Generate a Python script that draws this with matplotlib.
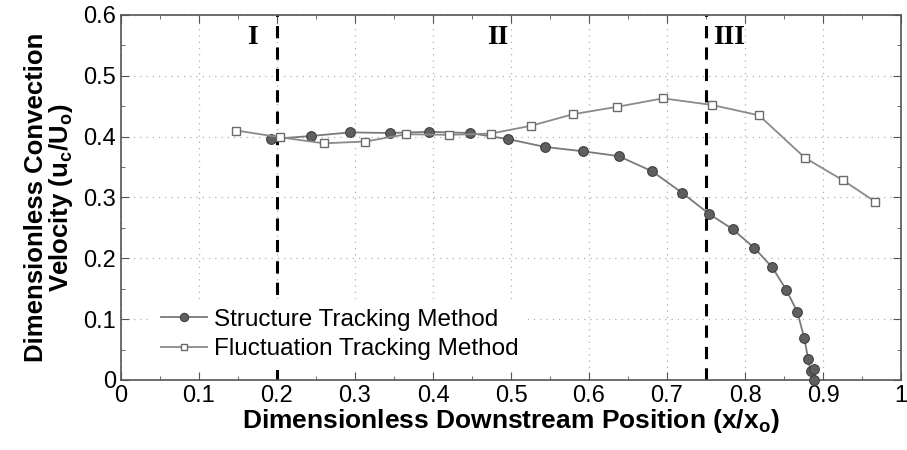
import matplotlib
matplotlib.use("Agg")
import matplotlib.pyplot as plt
from matplotlib.ticker import MultipleLocator

# Structure Tracking Method
struct_x = [0.192, 0.243, 0.294, 0.345, 0.395, 0.447, 0.496, 0.544, 0.592, 0.638,
            0.681, 0.719, 0.754, 0.784, 0.812, 0.835, 0.853, 0.867, 0.876, 0.881,
            0.884, 0.888, 0.889]
struct_y = [0.396, 0.401, 0.407, 0.406, 0.408, 0.406, 0.396, 0.383, 0.376, 0.368,
            0.343, 0.308, 0.273, 0.248, 0.217, 0.185, 0.148, 0.112, 0.069, 0.034,
            0.015, 0.018, 0.0]

# Fluctuation Tracking Method
fluct_x = [0.148, 0.204, 0.260, 0.313, 0.366, 0.421, 0.474, 0.526, 0.580, 0.636,
           0.695, 0.758, 0.818, 0.877, 0.926, 0.967]
fluct_y = [0.410, 0.399, 0.389, 0.392, 0.404, 0.403, 0.405, 0.418, 0.437, 0.449,
           0.463, 0.452, 0.435, 0.365, 0.328, 0.293]

region_bounds = [0.2, 0.75]
region_labels = ["I", "II", "III"]
region_label_x = [0.169, 0.483, 0.780]

xticks = [0, 0.1, 0.2, 0.3, 0.4, 0.5, 0.6, 0.7, 0.8, 0.9, 1]
xticklabels = ["0", "0.1", "0.2", "0.3", "0.4", "0.5", "0.6", "0.7", "0.8", "0.9", "1"]
yticks = [0, 0.1, 0.2, 0.3, 0.4, 0.5, 0.6]
yticklabels = ["0", "0.1", "0.2", "0.3", "0.4", "0.5", "0.6"]

plt.rcParams['font.family'] = ['Liberation Sans', 'DejaVu Sans']
plt.rcParams['mathtext.fontset'] = 'custom'
plt.rcParams['mathtext.rm'] = 'Liberation Sans'
plt.rcParams['mathtext.bf'] = 'Liberation Sans:bold'

fig = plt.figure(figsize=(9.07, 4.5), dpi=100)
ax = fig.add_axes([0.1334, 0.1556, 0.86, 0.8111])

ax.plot(struct_x, struct_y, color='#7a7a7a', lw=1.3, marker='o', ms=7,
        mfc='#5f5f5f', mec='#404040', mew=0.8, label='Structure Tracking Method',
        zorder=3, clip_on=False)
ax.plot(fluct_x, fluct_y, color='#8a8a8a', lw=1.3, marker='s', ms=5.5,
        mfc='white', mec='#6a6a6a', mew=1.0, label='Fluctuation Tracking Method', zorder=3)

for xb in region_bounds:
    ax.axvline(xb, color='black', lw=2.2, ls=(0, (4, 3)), zorder=2)
for lx, lab in zip(region_label_x, region_labels):
    ax.text(lx, 0.563, lab, ha='center', va='center', fontsize=20,
            fontweight='bold', family=['Liberation Serif', 'DejaVu Serif'])

ax.set_xlim(0, 1)
ax.set_ylim(0, 0.6)
ax.set_xticks(xticks)
ax.set_xticklabels(xticklabels)
ax.set_yticks(yticks)
ax.set_yticklabels(yticklabels)
ax.xaxis.set_minor_locator(MultipleLocator(0.05))
ax.yaxis.set_minor_locator(MultipleLocator(0.05))
ax.tick_params(which='both', direction='in', top=True, right=True, colors='#555555',
               labelcolor='black', labelsize=17)
ax.tick_params(which='major', length=6)
ax.tick_params(which='minor', length=3)
ax.grid(True, which='major', ls=(0, (1, 4)), color='#b0b0b0', lw=0.9)
for s in ax.spines.values():
    s.set_color('#555555')
    s.set_linewidth(1.2)

ax.set_xlabel(r'Dimensionless Downstream Position (x/x$_\mathbf{o}$)', fontsize=19,
              fontweight='bold', labelpad=0)
ax.set_ylabel('Dimensionless Convection\n' + r'Velocity (u$_\mathbf{c}$/U$_\mathbf{o}$)',
              fontsize=18.5, fontweight='bold', labelpad=6, linespacing=0.95)

leg = ax.legend(loc='lower left', bbox_to_anchor=(0.029, 0.008), fontsize=17.5,
                frameon=True, fancybox=False, handlelength=1.9, handletextpad=0.3,
                borderaxespad=0.3, labelspacing=0.3, markerscale=0.85)
leg.get_frame().set_edgecolor('none')
leg.get_frame().set_facecolor('white')
leg.get_frame().set_alpha(1.0)

fig.savefig('out.png', dpi=100)
